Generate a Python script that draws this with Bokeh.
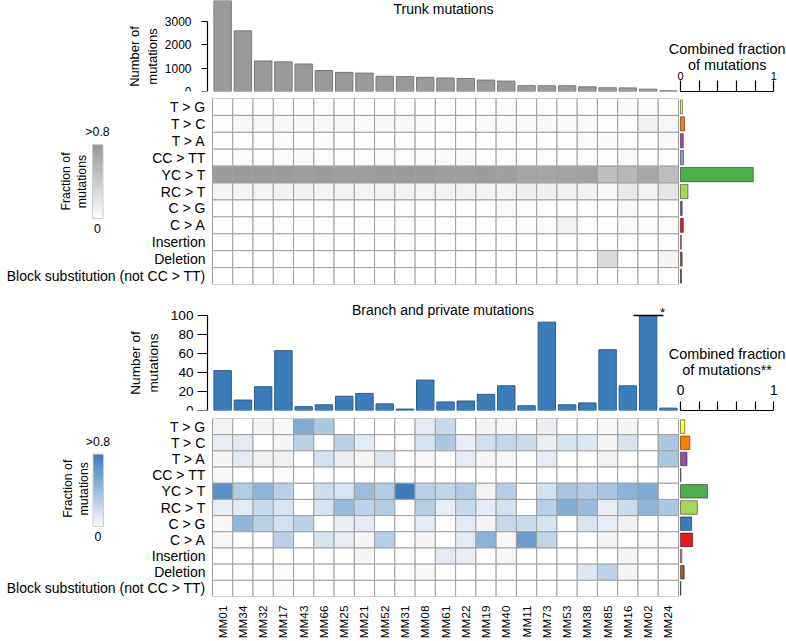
import numpy as np
from bokeh.plotting import figure
from bokeh.layouts import column
from bokeh.models import Range1d, LinearAxis, FixedTicker, LinearColorMapper, ColumnDataSource
from bokeh.core.properties import value
from bokeh.embed import file_html
from bokeh.resources import INLINE

# ---------------- data ----------------
samples = ["MM01", "MM34", "MM32", "MM17", "MM43", "MM66", "MM25", "MM21", "MM52", "MM31", "MM08", "MM61",
           "MM22", "MM19", "MM40", "MM11", "MM73", "MM53", "MM38", "MM85", "MM16", "MM02", "MM24"]
mut_types = ["T > G", "T > C", "T > A", "CC > TT", "YC > T", "RC > T", "C > G", "C > A",
             "Insertion", "Deletion", "Block substitution (not CC > TT)"]
type_colors = ["#ffff33", "#ff7f00", "#984ea3", "#8da0cb", "#4daf4a", "#a6d854", "#377eb8", "#e41a1c",
               "#f781bf", "#a65628", "#555555"]

trunk_counts = [3990, 2600, 1310, 1270, 1180, 900, 820, 790, 650, 640, 610, 580, 560, 490, 445, 250, 245, 245,
                200, 160, 155, 100, 30]
trunk_yticks = [0, 1000, 2000, 3000]

branch_counts = [42, 11, 25, 63, 4, 6, 15, 18, 7, 1.5, 32, 9, 10, 17, 26, 5, 93, 6, 8, 64, 26, 100, 2.5]
branch_yticks = [0, 20, 40, 60, 80, 100]
capped_sample = "MM02"   # true count exceeds the axis (marked *)

trunk_combined = [0.02, 0.043, 0.03, 0.032, 0.78, 0.08, 0.018, 0.03, 0.01, 0.018, 0.01]
branch_combined = [0.046, 0.10, 0.07, 0.005, 0.29, 0.18, 0.12, 0.13, 0.015, 0.04, 0.005]
frac_ticks = [0, 0.2, 0.4, 0.6, 0.8, 1.0]

# fraction of each mutation type per sample (rows = mut_types, cols = samples)
trunk_frac = [
    [0.01, 0.02, 0.01, 0.01, 0.02, 0.02, 0.02, 0.01, 0.01, 0.01, 0.02, 0.01, 0.01, 0.02, 0.03, 0.02, 0.02, 0.01, 0.02, 0.01, 0.04, 0.03, 0.01],
    [0.02, 0.05, 0.05, 0.05, 0.05, 0.05, 0.05, 0.04, 0.05, 0.05, 0.04, 0.02, 0.02, 0.04, 0.04, 0.04, 0.05, 0.04, 0.04, 0.02, 0.01, 0.11, 0.06],
    [0.02, 0.01, 0.02, 0.03, 0.02, 0.03, 0.01, 0.02, 0.02, 0.01, 0.02, 0.02, 0.02, 0.02, 0.02, 0.02, 0.01, 0.02, 0.03, 0.04, 0.02, 0.02, 0.05],
    [0.015, 0.03, 0.015, 0.03, 0.04, 0.015, 0.015, 0.015, 0.03, 0.015, 0.03, 0.04, 0.04, 0.015, 0.015, 0.015, 0.015, 0.015, 0.015, 0.015, 0.04, 0.015, 0.01],
    [0.75, 0.76, 0.76, 0.75, 0.74, 0.75, 0.74, 0.74, 0.75, 0.76, 0.75, 0.74, 0.74, 0.75, 0.74, 0.68, 0.68, 0.69, 0.71, 0.50, 0.55, 0.66, 0.50],
    [0.09, 0.09, 0.09, 0.11, 0.11, 0.09, 0.10, 0.09, 0.10, 0.10, 0.09, 0.10, 0.10, 0.10, 0.09, 0.12, 0.12, 0.11, 0.11, 0.07, 0.18, 0.10, 0.20],
    [0.01, 0.01, 0.01, 0.01, 0.01, 0.01, 0.02, 0.01, 0.02, 0.01, 0.01, 0.01, 0.01, 0.01, 0.03, 0.02, 0.01, 0.01, 0.01, 0.01, 0.04, 0.01, 0.01],
    [0.01, 0.02, 0.02, 0.02, 0.01, 0.01, 0.02, 0.02, 0.01, 0.01, 0.01, 0.02, 0.02, 0.02, 0.01, 0.03, 0.03, 0.10, 0.02, 0.02, 0.04, 0.03, 0.03],
    [0.0, 0.0, 0.0, 0.0, 0.0, 0.0, 0.0, 0.0, 0.0, 0.0, 0.0, 0.0, 0.0, 0.0, 0.0, 0.0, 0.0, 0.0, 0.0, 0.0, 0.0, 0.0, 0.01],
    [0.0, 0.0, 0.0, 0.0, 0.0, 0.0, 0.0, 0.0, 0.0, 0.0, 0.0, 0.0, 0.0, 0.0, 0.0, 0.0, 0.0, 0.0, 0.0, 0.29, 0.0, 0.0, 0.08],
    [0.0, 0.0, 0.0, 0.0, 0.0, 0.0, 0.0, 0.0, 0.0, 0.0, 0.0, 0.0, 0.0, 0.0, 0.0, 0.0, 0.0, 0.0, 0.0, 0.0, 0.0, 0.0, 0.0],
]
branch_frac = [
    [0.04, 0.0, 0.03, 0.02, 0.50, 0.33, 0.0, 0.0, 0.0, 0.0, 0.10, 0.22, 0.0, 0.04, 0.02, 0.0, 0.07, 0.0, 0.0, 0.02, 0.03, 0.0, 0.0],
    [0.08, 0.10, 0.0, 0.03, 0.27, 0.0, 0.27, 0.10, 0.0, 0.0, 0.15, 0.33, 0.09, 0.18, 0.23, 0.20, 0.07, 0.15, 0.12, 0.03, 0.15, 0.0, 0.33],
    [0.03, 0.10, 0.05, 0.05, 0.0, 0.16, 0.07, 0.03, 0.14, 0.0, 0.02, 0.0, 0.09, 0.03, 0.02, 0.0, 0.09, 0.0, 0.0, 0.04, 0.0, 0.0, 0.33],
    [0.02, 0.0, 0.0, 0.01, 0.0, 0.0, 0.0, 0.0, 0.0, 0.0, 0.0, 0.0, 0.0, 0.0, 0.0, 0.0, 0.0, 0.0, 0.0, 0.0, 0.0, 0.0, 0.0],
    [0.68, 0.30, 0.44, 0.27, 0.0, 0.19, 0.14, 0.40, 0.30, 0.90, 0.27, 0.24, 0.30, 0.04, 0.29, 0.0, 0.16, 0.34, 0.30, 0.34, 0.46, 0.52, 0.0],
    [0.08, 0.10, 0.22, 0.14, 0.0, 0.15, 0.41, 0.25, 0.30, 0.0, 0.29, 0.09, 0.22, 0.10, 0.17, 0.0, 0.27, 0.50, 0.41, 0.08, 0.20, 0.44, 0.33],
    [0.02, 0.44, 0.27, 0.17, 0.27, 0.0, 0.07, 0.10, 0.0, 0.0, 0.09, 0.0, 0.10, 0.04, 0.22, 0.20, 0.15, 0.0, 0.14, 0.09, 0.05, 0.0, 0.0],
    [0.02, 0.0, 0.0, 0.27, 0.0, 0.15, 0.08, 0.03, 0.29, 0.0, 0.03, 0.0, 0.10, 0.46, 0.02, 0.60, 0.24, 0.0, 0.0, 0.04, 0.0, 0.01, 0.01],
    [0.0, 0.0, 0.0, 0.0, 0.0, 0.0, 0.0, 0.03, 0.0, 0.0, 0.0, 0.10, 0.08, 0.0, 0.02, 0.0, 0.0, 0.0, 0.0, 0.0, 0.03, 0.0, 0.0],
    [0.0, 0.0, 0.0, 0.01, 0.0, 0.0, 0.0, 0.0, 0.0, 0.0, 0.02, 0.0, 0.0, 0.0, 0.0, 0.0, 0.0, 0.0, 0.12, 0.25, 0.03, 0.0, 0.0],
    [0.0, 0.0, 0.0, 0.01, 0.0, 0.0, 0.0, 0.0, 0.0, 0.0, 0.0, 0.0, 0.0, 0.0, 0.0, 0.0, 0.0, 0.0, 0.0, 0.0, 0.0, 0.0, 0.0],
]

# ---------------- styling / geometry ----------------
FONT = "Liberation Sans"
N = len(samples)
R = len(mut_types)
W_TOTAL = 786
CELL_L = 212          # px where heatmap columns start
CW = 466 / N          # column width in px
AX_L = 207            # px of the bar-chart y axes
FRAC0 = 680           # px of fraction 0
FRACW = 93.3          # px per fraction unit
HA_FRAME, HA_GAP = 91, 7
HB_FRAME, HB_GAP = 186, 4
HC_FRAME, HC_GAP = 122, 8
HD_FRAME, HD_LAB = 185, 38
A_YMAX = HA_FRAME / 0.02333
C_YMAX = HC_FRAME / 0.95

GREY_BAR, GREY_EDGE = "#9a9a9a", "#787878"
BLUE_BAR, BLUE_EDGE = "#3b7dbb", "#2b5c8a"
GRID = "#a0a0a0"


def interp_palette(anchors, n=256, hi=0.8):
    vs = np.linspace(0, hi, n)
    av = [a[0] for a in anchors]
    out = []
    for v in vs:
        rgb = [int(round(np.interp(v, av, [a[1][k] for a in anchors]))) for k in range(3)]
        out.append("#%02x%02x%02x" % tuple(rgb))
    return out


grey_pal = interp_palette([(0, (255, 255, 255)), (0.8, (150, 150, 150))])
blue_pal = interp_palette([(0, (255, 255, 255)), (0.02, (247, 247, 247)), (0.05, (240, 240, 240)),
                           (0.09, (229, 236, 245)), (0.8, (59, 125, 187))])


def px2x(px):
    return -0.5 + (px - CELL_L) / CW


def px2f(px):
    return (px - FRAC0) / FRACW


def make_fig(height, gap, y_range):
    p = figure(width=W_TOTAL, height=height,
               x_range=Range1d(px2x(0), px2x(W_TOTAL)), y_range=y_range,
               x_axis_location=None, y_axis_location=None,
               min_border_left=0, min_border_right=0, min_border_top=0, min_border_bottom=gap,
               output_backend="svg", toolbar_location=None)
    p.extra_x_ranges = {"frac": Range1d(px2f(0), px2f(W_TOTAL))}
    p.outline_line_color = None
    p.grid.grid_line_color = None
    return p


def style_yaxis(ax, fs, lfs, standoff, tick_out, label_standoff):
    ax.axis_line_color = "black"
    ax.axis_line_width = 1.2
    ax.major_tick_line_color = "black"
    ax.major_tick_line_width = 1.2
    ax.major_tick_out = tick_out
    ax.major_tick_in = 0
    ax.minor_tick_line_color = None
    ax.major_label_text_font = FONT
    ax.major_label_text_font_size = fs
    ax.major_label_text_color = "black"
    ax.major_label_standoff = standoff
    ax.axis_label_text_font = FONT
    ax.axis_label_text_font_style = "normal"
    ax.axis_label_text_font_size = lfs
    ax.axis_label_text_color = "black"
    ax.axis_label_standoff = label_standoff


def frac_axis(p, tick_len):
    # scale 0..1 with ticks every 0.2 (tick marks only; end labels are drawn as text)
    ax = LinearAxis(x_range_name="frac", bounds=(0, 1), ticker=FixedTicker(ticks=[], minor_ticks=frac_ticks))
    ax.major_tick_line_color = None
    ax.minor_tick_in = tick_len
    ax.minor_tick_out = 0
    ax.minor_tick_line_color = "black"
    ax.minor_tick_line_width = 1.2
    ax.axis_line_color = "black"
    ax.axis_line_width = 1.2
    ax.major_label_standoff = 0
    p.add_layout(ax, "below")


def txt(p, x, y, s, size, align="center", angle=0, range_name="default"):
    kw = {}
    if range_name != "default":
        kw["x_range_name"] = range_name
    p.text(x=[x], y=[y], text=[s], text_align=align, text_baseline="middle", angle=angle,
           text_font=value(FONT), text_font_size=size, text_color="black", **kw)


def heat_panel(p, frac, pal, combined, frame_h, cb):
    rowh = frame_h / R

    def py2y(py):
        return R - 0.5 - py / rowh

    mapper = LinearColorMapper(palette=pal, low=0, high=0.8)
    xs, ys, vs = [], [], []
    for r in range(R):
        for c in range(N):
            xs.append(c)
            ys.append(R - 1 - r)
            vs.append(frac[r][c])
    src = ColumnDataSource(dict(x=xs, y=ys, v=vs))
    p.rect(x="x", y="y", width=1, height=1, source=src,
           fill_color={"field": "v", "transform": mapper}, line_color=GRID, line_width=1)
    # row labels
    p.text(x=[px2x(CELL_L - 7)] * R, y=[R - 1 - r for r in range(R)], text=mut_types,
           text_align="right", text_baseline="middle", text_font=value(FONT),
           text_font_size="14px", text_color="black")
    # combined-fraction bars
    p.hbar(y=[R - 1 - r for r in range(R)], left=0, right=combined, height=0.84,
           fill_color=type_colors, line_color="black", line_alpha=0.45, line_width=1, x_range_name="frac")
    # colour-bar legend
    cb_left, cb_top, cb_bot, top_lab, bot_lab, t1x, t2x, ty = cb
    grad = np.linspace(0, 0.8, 120).reshape(120, 1)
    p.image(image=[grad], x=px2x(cb_left), y=py2y(cb_bot), dw=10.5 / CW,
            dh=(cb_bot - cb_top) / rowh, color_mapper=mapper)
    p.rect(x=[px2x(cb_left + 5.25)], y=[py2y((cb_top + cb_bot) / 2)], width=10.5 / CW,
           height=(cb_bot - cb_top) / rowh, fill_color=None, line_color="#cccccc", line_width=1)
    txt(p, px2x(cb_left + 5), py2y(top_lab), ">0.8", "12.3px")
    txt(p, px2x(cb_left + 5), py2y(bot_lab), "0", "12.3px")
    txt(p, px2x(t1x), py2y(ty), "Fraction of", "12.3px", angle=np.pi / 2)
    txt(p, px2x(t2x), py2y(ty), "mutations", "12.3px", angle=np.pi / 2)


# ---------------- A: trunk counts ----------------
pA = make_fig(HA_FRAME + HA_GAP, HA_GAP, Range1d(0, A_YMAX))
pA.vbar(x=list(range(N)), top=trunk_counts, width=0.86, fill_color=GREY_BAR, line_color=GREY_EDGE)
yA = LinearAxis(bounds=(0, 3000), ticker=FixedTicker(ticks=trunk_yticks), axis_label="Number of\nmutations",
                fixed_location=px2x(AX_L))
style_yaxis(yA, "12px", "13px", 10, 6, 2)
pA.add_layout(yA, "left")
frac_axis(pA, 11)


def ya(px_from_bottom):
    return px_from_bottom * A_YMAX / HA_FRAME


txt(pA, px2x(443), ya(HA_FRAME - 8), "Trunk mutations", "14px")
txt(pA, 0, ya(16), "0", "11px", range_name="frac")
txt(pA, 1, ya(16), "1", "11px", range_name="frac")
txt(pA, 0.5, ya(43), "Combined fraction", "14.4px", range_name="frac")
txt(pA, 0.5, ya(27), "of mutations", "14.4px", range_name="frac")

# ---------------- B: trunk heat map ----------------
pB = make_fig(HB_FRAME + HB_GAP, HB_GAP, Range1d(-0.5, R - 0.5))
heat_panel(pB, trunk_frac, grey_pal, trunk_combined, HB_FRAME, (92, 46, 120, 33, 130, 65.5, 81, 83))

# ---------------- C: branch counts ----------------
pC = make_fig(HC_FRAME + HC_GAP, HC_GAP, Range1d(0, C_YMAX))
pC.vbar(x=list(range(N)), top=branch_counts, width=0.86, fill_color=BLUE_BAR, line_color=BLUE_EDGE)
yC = LinearAxis(bounds=(0, 100), ticker=FixedTicker(ticks=branch_yticks), axis_label="Number of\nmutations",
                fixed_location=px2x(AX_L))
style_yaxis(yC, "13.6px", "13.6px", 4, 10, 7)
pC.add_layout(yC, "left")
frac_axis(pC, 9)


def yc(px_from_bottom):
    return px_from_bottom * C_YMAX / HC_FRAME


ci = samples.index(capped_sample)
pC.segment(x0=[ci - 0.72], x1=[ci + 0.76], y0=[branch_counts[ci]], y1=[branch_counts[ci]],
           line_color="black", line_width=1.5)
txt(pC, ci + 0.72, yc(HC_FRAME - 24), "*", "13.5px")
txt(pC, px2x(442.5), yc(HC_FRAME - 21), "Branch and private mutations", "14px")
txt(pC, 0, yc(21), "0", "13.8px", range_name="frac")
txt(pC, 1, yc(21), "1", "13.8px", range_name="frac")
txt(pC, 0.5, yc(57), "Combined fraction", "14.4px", range_name="frac")
txt(pC, 0.5, yc(41), "of mutations**", "14.4px", range_name="frac")

# ---------------- D: branch heat map ----------------
pD = make_fig(HD_FRAME + HD_LAB, HD_LAB, Range1d(-0.5, R - 0.5))
heat_panel(pD, branch_frac, blue_pal, branch_combined, HD_FRAME, (92.5, 37, 112, 24.7, 122.7, 67, 83, 73))
xD = LinearAxis(ticker=FixedTicker(ticks=list(range(N))),
                major_label_overrides={i: s for i, s in enumerate(samples)})
xD.major_label_orientation = np.pi / 2
xD.axis_line_color = None
xD.major_tick_line_color = None
xD.minor_tick_line_color = None
xD.major_label_standoff = 3
xD.major_label_text_font = FONT
xD.major_label_text_font_size = "11.8px"
xD.major_label_text_color = "black"
pD.add_layout(xD, "below")

layout = column(pA, pB, pC, pD, spacing=0)
open("out.html", "w").write(file_html(layout, INLINE))
